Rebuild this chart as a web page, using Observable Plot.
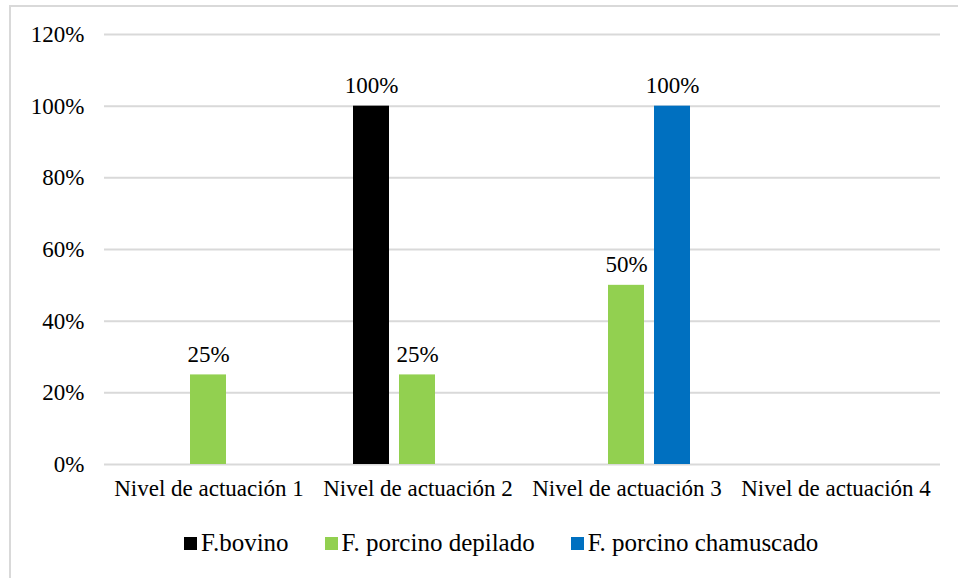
<!DOCTYPE html>
<html><head><meta charset="utf-8">
<script src="https://cdn.jsdelivr.net/npm/d3@7"></script>
<script src="https://cdn.jsdelivr.net/npm/@observablehq/plot@0.6"></script>
<style>
html,body{margin:0;padding:0;background:#fff;}
body{width:958px;height:578px;overflow:hidden;position:relative;font-family:'Liberation Serif','LiberationSerif','Tinos','Times New Roman','Times','DejaVu Serif',serif;}
#frame{position:absolute;left:9px;top:5px;width:1000px;height:700px;border-left:2px solid #d9d9d9;border-top:2px solid #d9d9d9;}
#chart{position:absolute;left:0;top:0;}
#chart svg, #chart svg text{font-family:'Liberation Serif','LiberationSerif','Tinos','Times New Roman','Times','DejaVu Serif',serif !important;}
#legend{position:absolute;left:184px;top:529px;display:flex;align-items:center;font-size:25px;color:#000;white-space:nowrap;}
#legend .item{display:flex;align-items:center;margin-right:36px;}
#legend .sw{width:13px;height:13px;margin-right:4px;}
</style></head><body>
<div id="frame"></div>
<div id="chart"></div>
<div id="legend"></div>
<script>
const categories = ["Nivel de actuación 1","Nivel de actuación 2","Nivel de actuación 3","Nivel de actuación 4"];
const series = ["F.bovino","F. porcino depilado","F. porcino chamuscado"];
const bovino = [0, 1, 0, 0];
const depilado = [0.25, 0.25, 0.5, 0];
const chamuscado = [0, 0, 1, 0];
const colors = ["#000000","#92d050","#0070c0"];
const yTicks = [0, 0.2, 0.4, 0.6, 0.8, 1.0, 1.2];

const values = [bovino, depilado, chamuscado];
const data = [];
series.forEach((s, i) => categories.forEach((c, j) => data.push({category: c, series: s, value: values[i][j]})));
const fmt = d3.format(".0%");

const chart = Plot.plot({
  width: 958,
  height: 504,
  marginLeft: 103,
  marginRight: 18,
  marginTop: 34,
  marginBottom: 40,
  style: {fontSize: "23px", color: "#000", background: "transparent"},
  fx: {domain: categories, padding: 0, label: null, axis: "bottom", tickSize: 0, tickPadding: 15},
  x: {domain: series, axis: null, paddingInner: 0.213, paddingOuter: 0.832},
  y: {domain: [0, 1.2], ticks: yTicks, tickFormat: fmt, label: null, tickSize: 0, tickPadding: 20},
  color: {domain: series, range: colors},
  marks: [
    Plot.gridY(yTicks, {stroke: "#d9d9d9", strokeWidth: 2, strokeOpacity: 1}),
    Plot.barY(data, {fx: "category", x: "series", y: "value", fill: "series"}),
    Plot.text(data.filter(d => d.value > 0), {fx: "category", x: "series", y: "value", text: d => fmt(d.value), lineAnchor: "bottom", dy: -13, fill: "#000"})
  ]
});
document.getElementById("chart").appendChild(chart);

const legend = document.getElementById("legend");
series.forEach((s, i) => {
  const item = document.createElement("div");
  item.className = "item";
  const sw = document.createElement("div");
  sw.className = "sw";
  sw.style.background = chart.scale("color").apply(s);
  const lab = document.createElement("span");
  lab.textContent = s;
  item.appendChild(sw); item.appendChild(lab);
  legend.appendChild(item);
});
</script>
</body></html>
